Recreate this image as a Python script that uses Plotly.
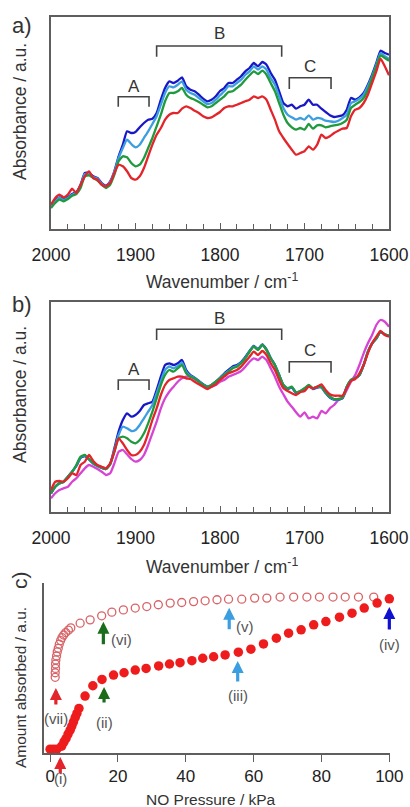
import plotly.graph_objects as go

# ---------------- data ----------------
wavenumber = list(range(2000, 1595, -5))  # cm-1 grid, 2000 -> 1600

# panel a: spectra recorded along the adsorption branch
a_blue = [24.3, 28.3, 31.7, 29.7, 31.7, 35, 37, 44.3, 56, 56, 52.7, 51, 46, 43.3, 47.7, 57.7, 72.7, 84.3, 97.7, 96,
          97, 101.7, 106, 109.3, 110.3, 116, 129.3, 141, 147.7, 146, 148.3, 151.7, 142.7, 139.3, 137.7, 134.3, 130.3,
          127.7, 129.3, 132.7, 138,
          141, 146, 146, 149.3, 152.7, 157.7, 161, 166, 162.7, 167, 164.3, 156, 149.3, 137.7, 126, 122.7, 124.3, 120.3,
          122.7, 124.3, 129.3, 124.3, 124.3, 120.3, 117, 113.7, 112, 112.7, 113.7, 119.3, 131, 129.3, 131.7, 136, 144.3,
          154.3, 166, 178.3, 176, 174.3]
a_lightblue = [23.5, 27.5, 31, 29, 31, 34.3, 36.3, 43.5, 55, 55, 52, 50.3, 45.3, 42.5, 47, 57, 71, 81, 89.3, 85,
               81.7, 84.3, 91, 97.7, 105, 112.7, 124.3, 136, 142.7, 141.7, 144.3, 147.7, 139.3, 136, 134.3, 131, 127.7,
               125, 126, 129.3, 133.7,
               137.7, 142.7, 142.7, 146, 149.3, 154.3, 157.7, 162.7, 159.3, 162.7, 159.3, 151, 144.3, 132.7, 121, 114.3,
               111.7, 109.3, 111, 109.3, 113.7, 109.3, 111, 110.3, 108.3, 107.7, 107, 108.3, 111, 114.3, 126, 127.7,
               130.3, 134.3, 142.7, 152.7, 164.3, 176, 172.7, 170.3]
a_green = [21, 26, 29.3, 27.7, 30, 33.3, 35, 41, 52.7, 53.7, 51, 48.3, 44.3, 41, 44.3, 54.3, 67.7, 72.7, 71.7, 66,
           62.7, 64.3, 71, 81, 91, 102.7, 114.3, 127.7, 136, 136, 137.7, 141, 134.3, 131, 129.3, 127, 124.3, 121.7,
           122.7, 126, 129.3,
           132.7, 137, 137.7, 141, 144.3, 149.3, 153.7, 157.7, 155, 158.3, 154.3, 146, 137.7, 126, 114.3, 106, 101.7,
           99.3, 101, 99.3, 105, 100.3, 103.7, 103.7, 101.7, 102.7, 103.7, 104.3, 106, 109.3, 121, 124.3, 127, 131,
           139.3, 151, 162.7, 173.7, 171, 168.3]
a_red = [24.3, 31, 34.3, 31.7, 34.3, 40.3, 36, 44.3, 52.7, 57.7, 51, 49.3, 44.3, 42.7, 46, 56, 64.3, 62.7, 57.7, 51,
         49.3, 52.7, 61, 72.7, 84.3, 94.3, 101, 109.3, 114.3, 116, 116, 120.3, 122.7, 121, 118.3, 116, 112.7, 111,
         111.7, 114.3, 117,
         121, 122.7, 122.7, 124.3, 126, 127.7, 129.3, 132.7, 131, 132.7, 129.3, 119.3, 109.3, 97.7, 91, 85, 79.3, 74.3,
         76, 77.7, 82.7, 79.3, 84.3, 94.3, 91, 92.7, 96, 98.3, 100.3, 101, 112.7, 119.3, 121, 126, 134.3, 146, 157.7,
         170.3, 162.7, 153.7]

# panel b: spectra recorded along the desorption branch
b_blue = [18.7, 25.3, 28.7, 30.3, 35.3, 40.3, 46, 54, 56, 52.5, 48.5, 46, 44, 43, 48, 63.7, 80.3, 92, 98.7, 95.3,
          97, 101, 107, 108.7, 110.3, 122, 135.3, 147, 148.7, 147, 148.7, 152, 142, 137, 134.3, 131, 127.7, 125.3,
          127, 130.3, 134.3,
          138.5, 142, 145.5, 147, 150, 155, 161, 166, 163, 167.5, 162.5, 154, 147, 137, 127, 123, 124.5, 119, 120.5,
          123, 126.3, 123, 124.5, 124.5, 119, 114.5, 112.3, 112.3, 114, 125, 132, 133.7, 137, 147, 160, 168.5, 173.5,
          180, 177.5, 176]
b_lightblue = [18.7, 25.3, 28.7, 30.3, 35.3, 40.3, 46.5, 54.5, 56.5, 52.7, 48.6, 46.1, 44.1, 43, 47.8, 62, 77, 85.3,
               83.7, 81, 82, 87, 93.7, 100.3, 107, 118.7, 131, 142, 145.5, 143.7, 146, 149.5, 140.3, 136, 134, 130.7,
               127.3, 125.3, 127, 130.3, 134,
               137.7, 141, 144.5, 146, 149.3, 154.3, 160.7, 165.7, 162.5, 167.2, 162.2, 153.8, 147, 137, 127, 123.5,
               125, 119.5, 121, 123.5, 126.7, 123.5, 125, 125, 119.5, 115, 112.7, 112.7, 114.2, 125.2, 132, 133.7, 137,
               147, 160.2, 168.6, 173.6, 180.2, 177.6, 176.2]
b_green = [18.7, 25.3, 28.7, 30.3, 35.3, 40.3, 47, 55.3, 57, 53, 48.7, 46.3, 44.3, 43, 47.7, 60.3, 73.7, 75.3, 73.7,
           70.3, 68.7, 72, 78.7, 88.7, 100.3, 113.7, 127, 137, 142, 140.3, 143.7, 147, 138.7, 135.3, 133.7, 130.3, 127,
           125.3, 127, 130.3, 133.7,
           137, 140.3, 143.7, 145.3, 148.7, 153.7, 160.3, 165.3, 162, 167, 162, 153.7, 147, 137, 127, 123.7, 125.3,
           119.7, 121, 123.7, 127, 123.7, 125.3, 125.3, 119.7, 115.3, 113, 113, 114.3, 125.3, 132, 133.7, 137, 147,
           160.3, 168.7, 173.7, 180.3, 177.7, 176.3]
b_red = [22, 30.3, 31, 30.3, 33.7, 38.7, 37, 47, 50.3, 57, 51, 47, 45.3, 43.7, 48.7, 60.3, 73.7, 68.7, 62, 57,
         57, 60.3, 67, 78.7, 92, 103.7, 117, 127, 132, 133.7, 135.3, 135.3, 133.7, 133, 130.3, 127.7, 125.3, 123,
         125.3, 127.7, 132,
         135.3, 138.7, 140.3, 142, 145.3, 150.3, 155.3, 160.3, 157, 161, 157, 148.7, 142, 132, 123.7, 121, 118.7, 117,
         119.7, 121, 125.3, 123.7, 125.3, 127.7, 122, 117.7, 116.3, 116.3, 116.3, 123.7, 131, 133, 138.7, 147, 158.7,
         168.7, 175.3, 181, 177, 175.3]
b_magenta = [13.7, 18.7, 22, 23.7, 25.3, 30.3, 33.7, 38.7, 43.7, 47, 45.3, 43, 40.3, 37, 38.7, 48.7, 60.3, 62, 57.7,
             53, 50.3, 52, 57, 67, 78.7, 90.3, 103.7, 113.7, 120.3, 125.3, 130.3, 133.7, 135.3, 135.3, 133, 130.3, 127,
             124.3, 125.3, 127, 130.3,
             132, 135.3, 137, 138.7, 141, 145.3, 150.3, 153.7, 152, 155.3, 152, 143.7, 135.3, 125.3, 117.7, 110.3,
             105.3, 99.7, 95.3, 99.7, 93.7, 95.3, 93.7, 101, 98.7, 103.7, 107, 112, 113.7, 122, 130.3, 137, 147, 158.7,
             168.7, 177, 187, 192, 190.3, 185.3]

# panel c: NO isotherm (kPa, a.u.)
ads_pressure = [0, 1, 2, 3.4, 4.1, 4.7, 5.3, 5.9, 6.4, 6.9, 7.4, 7.9, 8.5, 10.3, 12.6, 15.3, 18.7, 21.8, 25.1, 28.3,
                32.0, 35.2, 38.3, 41.8, 45.0, 48.2, 51.6, 55.5, 59.2, 62.9, 66.7, 70.3, 74.0, 77.7, 81.3, 85.3, 89.0,
                92.6, 96.4, 100]
ads_amount = [0, 0, 0, 2.0, 4.9, 7.1, 10.0, 12.6, 15.3, 18.1, 21.0, 23.7, 27.0, 35.2, 42.0, 46.2, 49.1, 50.6, 52.4,
              53.5, 55.1, 56.4, 57.3, 58.6, 60.2, 61.2, 62.4, 64.2, 66.2, 69.7, 73.5, 76.8, 79.0, 82.3, 84.5, 87.4,
              90.0, 93.4, 96.7, 99.5]
des_pressure = [1.5, 1.5, 1.6, 1.6, 1.7, 1.9, 2.1, 2.4, 2.7, 3.1, 3.5, 4.0, 4.6, 5.4, 6.1, 8.85, 11.8, 15.2, 18.2,
                21.6, 25.1, 28.5, 31.9, 35.4, 38.8, 42.3, 45.7, 49.2, 52.6, 56.5, 60.3, 63.9, 67.8, 71.8, 75.7, 79.4,
                83.4, 87.0, 90.9, 95.4]
des_amount = [47.6, 50.6, 53.5, 56.4, 59.1, 61.7, 64.4, 66.8, 69.5, 71.9, 73.9, 75.6, 77.2, 78.8, 80.3, 83.4, 85.6,
              88.3, 90.7, 92.2, 93.4, 94.4, 95.6, 96.7, 97.1, 97.7, 98.2, 98.9, 99.3, 99.3, 100, 100, 100.7, 100.7,
              100.7, 100.7, 100.7, 100.7, 100.7, 100.7]

wn_ticks = [2000, 1900, 1800, 1700, 1600]
kpa_ticks = [0, 20, 40, 60, 80, 100]

# ---------------- style ----------------
FONT = "Liberation Sans, Arial, sans-serif"
TXT = "#333333"
AX = "#5e5e5e"
BLUE, LBLUE, GREEN, RED, MAGENTA = "#1818c8", "#3a9ee0", "#1f9a3c", "#e3242b", "#d743d2"
DKGREEN, DKBLUE = "#1b6d1b", "#1010d0"
W, H = 410, 807


def px_x(x):
    return x / W


def px_y(y):
    return 1 - y / H


fig = go.Figure()

for ax_id, series in (
    ("", [(a_blue, BLUE), (a_lightblue, LBLUE), (a_green, GREEN), (a_red, RED)]),
    ("2", [(b_magenta, MAGENTA), (b_blue, BLUE), (b_lightblue, LBLUE), (b_green, GREEN), (b_red, RED)]),
):
    for vals, col in series:
        fig.add_trace(go.Scatter(
            x=wavenumber, y=vals, mode="lines",
            line=dict(color=col, width=2.3, shape="spline", smoothing=0.5),
            xaxis="x" + ax_id, yaxis="y" + ax_id, showlegend=False, hoverinfo="skip"))

fig.add_trace(go.Scatter(
    x=des_pressure, y=des_amount, mode="markers", xaxis="x3", yaxis="y3",
    marker=dict(size=8, color="rgba(255,255,255,0)", line=dict(color="#d86468", width=1.3)),
    cliponaxis=False, showlegend=False))
fig.add_trace(go.Scatter(
    x=ads_pressure, y=ads_amount, mode="markers", xaxis="x3", yaxis="y3",
    marker=dict(size=9.5, color="#ee1c1c", line=dict(width=0)),
    cliponaxis=False, showlegend=False))

spec_x = dict(range=[2000, 1600], showline=True, mirror=True, linecolor=AX, linewidth=1.8,
              ticks="inside", tickvals=wn_ticks, ticklen=6, tickcolor=AX, tickwidth=1.3,
              minor=dict(dtick=20, tick0=2000, ticks="inside", ticklen=5, tickcolor=AX, tickwidth=1.2),
              showgrid=False, zeroline=False, ticklabelstandoff=9, automargin=False,
              tickfont=dict(family=FONT, size=17.5, color="#222"))
spec_y = dict(showline=True, mirror=True, linecolor=AX, linewidth=1.8, ticks="", automargin=False,
              showticklabels=False, showgrid=False, zeroline=False)

fig.update_layout(
    width=W, height=H, margin=dict(l=0, r=0, t=0, b=0, autoexpand=False),
    paper_bgcolor="white", plot_bgcolor="white",
    font=dict(family=FONT, color=TXT),
    xaxis=dict(domain=[px_x(51), px_x(389)], anchor="y", **spec_x),
    yaxis=dict(domain=[px_y(229), px_y(17)], anchor="x", range=[0, 212], **spec_y),
    xaxis2=dict(domain=[px_x(51), px_x(389)], anchor="y2", **spec_x),
    yaxis2=dict(domain=[px_y(512), px_y(302)], anchor="x2", range=[0, 210], **spec_y),
    xaxis3=dict(domain=[px_x(44), px_x(390)], anchor="y3", range=[-1.8, 100.2], automargin=False,
                showline=True, linecolor=AX, linewidth=1.8, ticks="outside", tickvals=kpa_ticks,
                ticklen=7, tickcolor=AX, tickwidth=1.3, showgrid=False, zeroline=False,
                tickfont=dict(family=FONT, size=17, color="#222")),
    yaxis3=dict(domain=[px_y(753), px_y(583)], anchor="x3", range=[-2.5, 110], automargin=False,
                showline=True, linecolor=AX, linewidth=1.8, ticks="", showticklabels=False,
                showgrid=False, zeroline=False),
)

# region brackets A, B, C on both spectra panels
brackets = {
    "": [("A", 1920.4, 1884, 132.3, 122.3, 143), ("B", 1875, 1727, 183, 172.3, 195.7),
         ("C", 1718, 1668.6, 151.3, 140, 162.3)],
    "2": [("A", 1920.4, 1884, 132, 122, 142.7), ("B", 1875, 1727, 182.7, 172, 193.7),
          ("C", 1718, 1668.6, 150.3, 139.3, 161.3)],
}
annotations = []
shapes = []
for ax_id, items in brackets.items():
    for lab, x1, x2, ytop, yleg, ylab in items:
        shapes.append(dict(type="path", xref="x" + ax_id, yref="y" + ax_id,
                           path=f"M {x1},{yleg} L {x1},{ytop} L {x2},{ytop} L {x2},{yleg}",
                           line=dict(color="#444", width=1.6)))
        annotations.append(dict(x=(x1 + x2) / 2, y=ylab, xref="x" + ax_id, yref="y" + ax_id,
                                text=lab, showarrow=False, font=dict(size=17, color=TXT)))


# axis titles and panel letters
def paper_text(text, x, y, size, angle=0, anchor="center"):
    annotations.append(dict(x=px_x(x), y=px_y(y), xref="paper", yref="paper", text=text,
                            showarrow=False, textangle=angle, xanchor=anchor, yanchor="middle",
                            font=dict(size=size, color=TXT)))


paper_text("Wavenumber / cm<sup>-1</sup>", 222, 281, 17.5)
paper_text("Wavenumber / cm<sup>-1</sup>", 222, 566, 17.5)
paper_text("Absorbance / a.u.", 20, 112, 17.5, -90)
paper_text("Absorbance / a.u.", 20, 395, 17.5, -90)
paper_text("NO Pressure / kPa", 211, 799, 15.5)
paper_text("Amount absorbed / a.u.", 20, 688, 15.5, -90)
paper_text("a)", 22, 25, 22)
paper_text("b)", 22, 304, 22)
paper_text("c)", 19, 580, 21, -90)

# isotherm markers: arrows and roman-numeral labels
LAB = "#555555"
ARROW = dict(showarrow=True, arrowhead=2, arrowsize=0.75, arrowwidth=3.2, standoff=0, text="")
arrows = [  # (pressure, tip, tail length px, colour)
    (1.7, 40.5, 18, RED), (15.9, 41.1, 17, DKGREEN), (15.7, 84.3, 24, DKGREEN),
    (55.3, 58.4, 22, LBLUE), (52.8, 93.6, 23, LBLUE), (100, 94.2, 24, DKBLUE),
]
for xp, yt, ln, col in arrows:
    annotations.append(dict(x=xp, y=yt, xref="x3", yref="y3", ax=0, ay=ln, arrowcolor=col, **ARROW))
annotations.append(dict(x=3.0, y=px_y(757), xref="x3", yref="paper", ax=0, ay=18, arrowcolor=RED, **ARROW))
labels = [  # (text, pressure, amount, anchor)
    ("(vii)", 1.7, 20.6, "center"), ("(ii)", 15.9, 17.9, "center"), ("(vi)", 17.3, 72.3, "left"),
    ("(iii)", 55.3, 35.8, "center"), ("(v)", 54.2, 81, "left"), ("(iv)", 100, 69, "center"),
]
for txt, xp, ya, anc in labels:
    annotations.append(dict(x=xp, y=ya, xref="x3", yref="y3", text=txt, showarrow=False,
                            xanchor=anc, font=dict(size=15, color=LAB)))
annotations.append(dict(x=3.0, y=px_y(789), xref="x3", yref="paper", text="(i)", showarrow=False,
                        font=dict(size=15, color=LAB)))

fig.update_layout(shapes=shapes, annotations=annotations)
fig.write_html("out.html")
